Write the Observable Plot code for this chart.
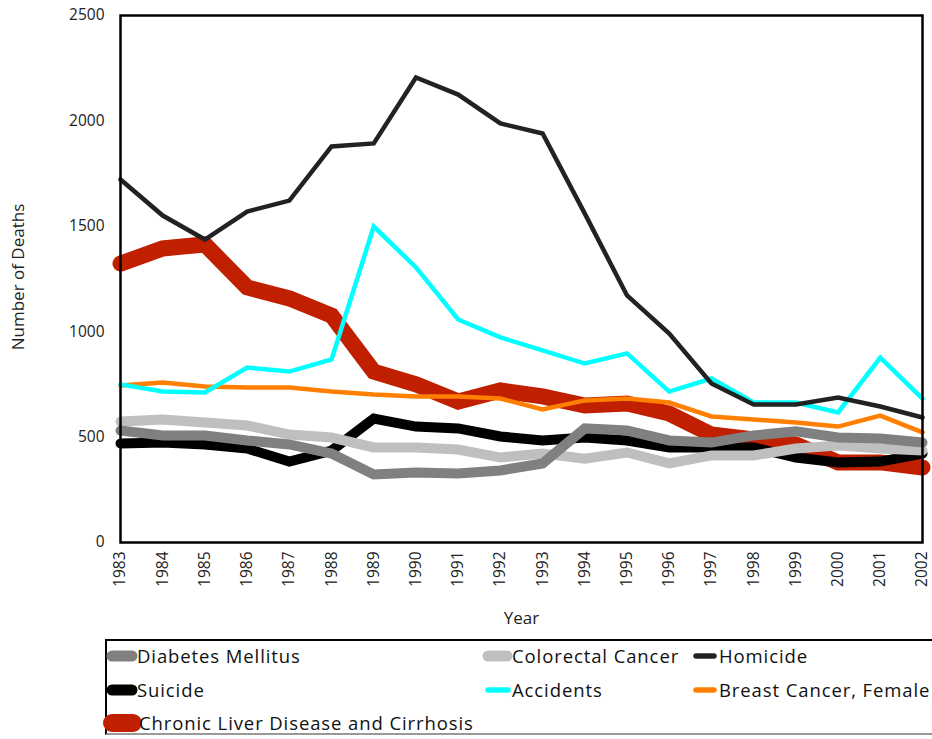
<!DOCTYPE html>
<html>
<head>
<meta charset="utf-8">
<script src="https://cdn.jsdelivr.net/npm/d3@7"></script>
<script src="https://cdn.jsdelivr.net/npm/@observablehq/plot@0.6"></script>
<style>
  html, body { margin: 0; padding: 0; background: #fff; overflow: hidden; }
  #wrap { position: relative; width: 932px; height: 739px; font-family: "Open Sans", sans-serif; }
  #legend { position: absolute; left: 105px; top: 639px; width: 900px; height: 96px;
            border: 2px solid #000; border-bottom-color: #999; box-sizing: border-box; }
  .lt { position: absolute; font-size: 18.5px; letter-spacing: 0.9px; line-height: 24px; color: #111; white-space: nowrap; }
  #legsvg { position: absolute; left: 0; top: 0; }
</style>
</head>
<body>
<div id="wrap"></div>
<script>
const years = [1983,1984,1985,1986,1987,1988,1989,1990,1991,1992,1993,1994,1995,1996,1997,1998,1999,2000,2001,2002];
const yTicks = [0,500,1000,1500,2000,2500];

const diabetes   = [531,508,508,484,465,422,323,332,327,342,375,541,531,484,474,508,527,498,493,474];
const colorectal = [574,584,569,555,512,498,451,451,441,403,422,398,427,375,413,413,446,460,446,436];
const homicide   = [1722,1551,1437,1570,1622,1879,1893,2206,2125,1988,1940,1560,1172,991,754,655,655,688,645,593];
const suicide    = [470,474,465,446,384,436,588,550,541,503,484,498,484,451,451,451,403,380,384,422];
const accidents  = [750,716,712,830,811,868,1499,1305,1058,973,911,849,897,716,778,664,664,617,877,683];
const breast     = [745,759,740,735,735,716,702,693,693,683,631,674,683,664,598,584,569,550,602,522];
const liver      = [1323,1395,1414,1210,1158,1077,811,750,669,721,693,650,659,612,512,489,465,380,380,356];

const seriesNames = ["Diabetes Mellitus","Colorectal Cancer","Homicide","Suicide","Accidents","Breast Cancer, Female","Chronic Liver Disease and Cirrhosis"];
const seriesValues = [diabetes, colorectal, homicide, suicide, accidents, breast, liver];

// styles
const styles = {
  "Diabetes Mellitus": {color: "#808080", width: 10},
  "Colorectal Cancer": {color: "#BFBFBF", width: 10},
  "Homicide": {color: "#222222", width: 4.5},
  "Suicide": {color: "#000000", width: 10},
  "Accidents": {color: "#00FFFF", width: 4.5},
  "Breast Cancer, Female": {color: "#FF7F00", width: 4.5},
  "Chronic Liver Disease and Cirrhosis": {color: "#C02000", width: 16}
};
// draw order (bottom to top)
const drawOrder = ["Chronic Liver Disease and Cirrhosis","Suicide","Colorectal Cancer","Diabetes Mellitus","Breast Cancer, Female","Accidents","Homicide"];

const table = {};
seriesNames.forEach((n, i) => { table[n] = years.map((y, j) => ({year: y, value: seriesValues[i][j], series: n})); });

const lineMarks = drawOrder.map(n => Plot.line(table[n], {
  x: "year", y: "value",
  stroke: styles[n].color, strokeWidth: styles[n].width,
  strokeLinecap: "round", strokeLinejoin: "miter", strokeMiterlimit: 3
}));

const chart = Plot.plot({
  width: 932,
  height: 638,
  marginTop: 15,
  marginBottom: 96,
  marginLeft: 120,
  marginRight: 10,
  style: {fontFamily: "Open Sans, sans-serif", fontSize: "15px", color: "#222", background: "#fff"},
  x: {domain: [1983, 2002]},
  y: {domain: [0, 2500]},
  marks: [
    ...lineMarks,
    Plot.frame({stroke: "#000", strokeWidth: 2.5}),
    Plot.axisY(yTicks, {tickSize: 0, tickPadding: 16, label: null, fontSize: 15.5, tickFormat: d => String(d), style: {letterSpacing: "0.8px"}}),
    Plot.axisX(years, {tickSize: 0, tickPadding: 9, tickRotate: -90, fontSize: 15.5, tickFormat: d => String(d), label: null, style: {letterSpacing: "1.8px"}}),
    Plot.text(["Year"], {frameAnchor: "bottom", dy: 81, fontSize: 17, fill: "#222"}),
    Plot.text(["Number of Deaths"], {frameAnchor: "left", textAnchor: "middle", dx: -102, dy: -2, rotate: -90, fontSize: 17, fill: "#222"})
  ]
});

const wrap = document.getElementById("wrap");
wrap.appendChild(chart);

// legend
const legendItems = [
  {name: seriesNames[0], sx: [112, 132], tx: 137, cy: 656},
  {name: seriesNames[1], sx: [488, 507], tx: 512, cy: 656},
  {name: seriesNames[2], sx: [696, 714], tx: 719, cy: 656},
  {name: seriesNames[3], sx: [112, 132], tx: 137, cy: 690},
  {name: seriesNames[4], sx: [488, 508], tx: 512, cy: 690},
  {name: seriesNames[5], sx: [696, 714], tx: 719, cy: 690},
  {name: seriesNames[6], sx: [112, 133], tx: 139, cy: 723}
];
const legend = document.createElement("div");
legend.id = "legend";
wrap.appendChild(legend);
const ns = "http://www.w3.org/2000/svg";
const lsvg = document.createElementNS(ns, "svg");
lsvg.setAttribute("id", "legsvg");
lsvg.setAttribute("width", 932);
lsvg.setAttribute("height", 739);
lsvg.style.pointerEvents = "none";
wrap.appendChild(lsvg);
legendItems.forEach(it => {
  const st = styles[it.name];
  const ln = document.createElementNS(ns, "line");
  ln.setAttribute("x1", it.sx[0]); ln.setAttribute("x2", it.sx[1]);
  ln.setAttribute("y1", it.cy); ln.setAttribute("y2", it.cy);
  ln.setAttribute("stroke", st.color);
  ln.setAttribute("stroke-width", it.name.startsWith("Chronic") ? 18 : st.width + 1);
  ln.setAttribute("stroke-linecap", "round");
  lsvg.appendChild(ln);
  const t = document.createElement("div");
  t.className = "lt";
  t.textContent = it.name;
  t.style.left = it.tx + "px";
  t.style.top = (it.cy - 12) + "px";
  wrap.appendChild(t);
});
</script>
</body>
</html>
